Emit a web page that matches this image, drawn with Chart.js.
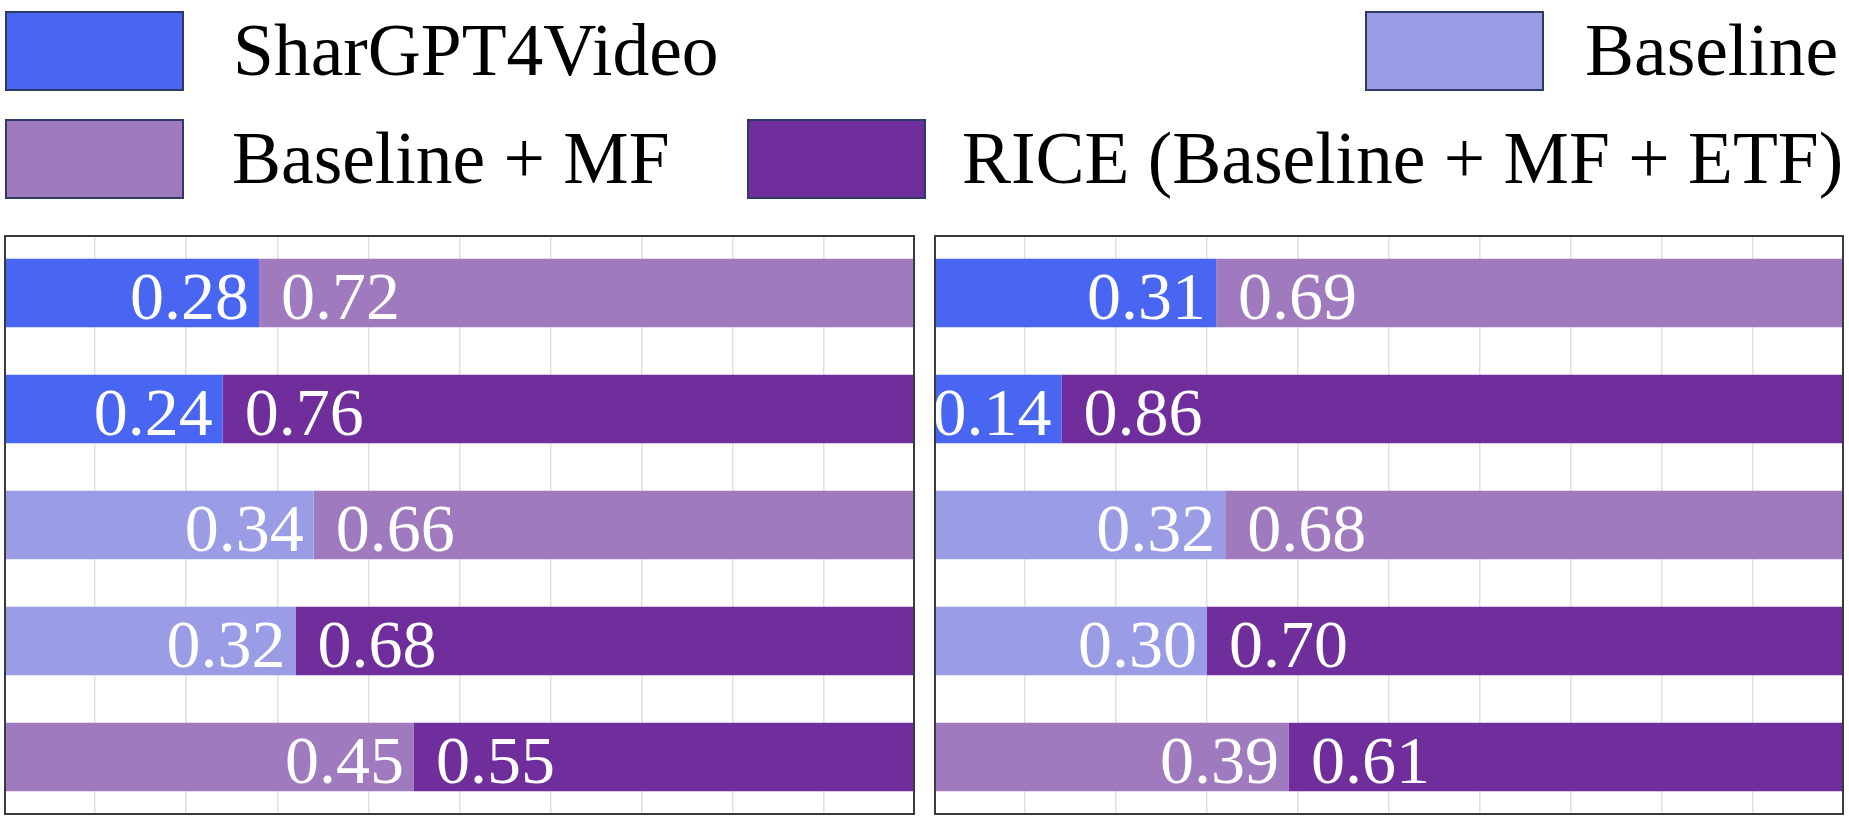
<!DOCTYPE html>
<html>
<head>
<meta charset="utf-8">
<script src="https://cdn.jsdelivr.net/npm/chart.js@4/dist/chart.umd.min.js"></script>
<style>
  html, body { margin: 0; padding: 0; background: #ffffff; }
  body { width: 1849px; height: 824px; position: relative; overflow: hidden; font-family: "Liberation Serif", "Times New Roman", serif; }
  .box { position: absolute; width: 179px; height: 80px; box-sizing: border-box; border: 2px solid #2f3b66; }
  .ltxt { position: absolute; font-size: 73.5px; line-height: 80px; height: 80px; color: #000; white-space: nowrap; }
  canvas { position: absolute; }
</style>
</head>
<body>
<div id="legend"></div>
<canvas id="leftChart" width="911" height="580" style="left:4px; top:235px;"></canvas>
<canvas id="rightChart" width="910" height="580" style="left:934px; top:235px;"></canvas>
<script>
// ---------- data ----------
const methods = ["SharGPT4Video", "Baseline", "Baseline + MF", "RICE (Baseline + MF + ETF)"];
const rows = ["row1", "row2", "row3", "row4", "row5"];

// left panel: each method's share per row (null = not in that comparison)
const leftShar     = [0.28, 0.24, null, null, null];
const leftBaseline = [null, null, 0.34, 0.32, null];
const leftMF       = [0.72, null, 0.66, null, 0.45];
const leftRICE     = [null, 0.76, null, 0.68, 0.55];

// right panel
const rightShar     = [0.31, 0.14, null, null, null];
const rightBaseline = [null, null, 0.32, 0.30, null];
const rightMF       = [0.69, null, 0.68, null, 0.39];
const rightRICE     = [null, 0.86, null, 0.70, 0.61];

const xTicks = [0, 0.1, 0.2, 0.3, 0.4, 0.5, 0.6, 0.7, 0.8, 0.9, 1.0];

// ---------- styles ----------
const methodColors = ["#4866f2", "#9a9de6", "#a07abf", "#6f2e9c"];

// ---------- legend (HTML, real text) ----------
const legendPlacement = [
  { box: [5, 11], text: [233, 11] },
  { box: [1365, 11], text: [1585, 11] },
  { box: [5, 119], text: [232, 119] },
  { box: [747, 119], text: [962, 119] }
];
const legendEl = document.getElementById("legend");
methods.forEach((m, i) => {
  const p = legendPlacement[i];
  const b = document.createElement("div");
  b.className = "box";
  b.style.left = p.box[0] + "px";
  b.style.top = p.box[1] + "px";
  b.style.background = methodColors[i];
  legendEl.appendChild(b);
  const t = document.createElement("div");
  t.className = "ltxt";
  t.style.left = p.text[0] + "px";
  t.style.top = p.text[1] + "px";
  t.textContent = m;
  legendEl.appendChild(t);
});

// ---------- plugins ----------
const segmentLabels = {
  id: "segmentLabels",
  afterDatasetsDraw(chart) {
    const ctx = chart.ctx;
    const n = chart.data.labels.length;
    ctx.save();
    ctx.fillStyle = "#ffffff";
    ctx.font = '68px "Liberation Serif", "Times New Roman", serif';
    ctx.textBaseline = "alphabetic";
    for (let i = 0; i < n; i++) {
      const segs = [];
      chart.data.datasets.forEach((ds, di) => {
        const v = ds.data[i];
        if (v === null || v === undefined) return;
        const el = chart.getDatasetMeta(di).data[i];
        const p = el.getProps(["x", "y", "base"], true);
        segs.push({ v, x: p.x, y: p.y, base: p.base });
      });
      segs.sort((a, b) => a.base - b.base);
      segs.forEach((s, k) => {
        const txt = s.v.toFixed(2);
        const y = s.y + 26;
        if (k === 0) {
          ctx.textAlign = "right";
          ctx.fillText(txt, s.x - 10, y);
        } else {
          ctx.textAlign = "left";
          ctx.fillText(txt, s.base + 22, y);
        }
      });
    }
    ctx.restore();
  }
};

const frame = {
  id: "frame",
  afterDraw(chart) {
    const a = chart.chartArea;
    const ctx = chart.ctx;
    ctx.save();
    ctx.strokeStyle = "#3a3a3a";
    ctx.lineWidth = 2;
    ctx.strokeRect(a.left + 1, a.top + 1, a.right - a.left - 2, a.bottom - a.top - 2);
    ctx.restore();
  }
};

function makeChart(id, series) {
  return new Chart(document.getElementById(id), {
    type: "bar",
    data: {
      labels: rows,
      datasets: methods.map((m, i) => ({
        label: m,
        data: series[i],
        backgroundColor: methodColors[i],
        borderWidth: 0,
        barPercentage: 0.59,
        categoryPercentage: 1.0
      }))
    },
    options: {
      indexAxis: "y",
      responsive: false,
      animation: false,
      layout: { padding: 0 },
      plugins: { legend: { display: false }, tooltip: { enabled: false } },
      scales: {
        x: {
          stacked: true,
          min: 0,
          max: 1,
          afterBuildTicks(scale) { scale.ticks = xTicks.map(v => ({ value: v })); },
          ticks: { display: false },
          grid: { color: "#e2e2e2", lineWidth: 1.5, drawTicks: false },
          border: { display: false }
        },
        y: {
          stacked: true,
          display: false,
          offset: true
        }
      }
    },
    plugins: [segmentLabels, frame]
  });
}

makeChart("leftChart", [leftShar, leftBaseline, leftMF, leftRICE]);
makeChart("rightChart", [rightShar, rightBaseline, rightMF, rightRICE]);
</script>
</body>
</html>
